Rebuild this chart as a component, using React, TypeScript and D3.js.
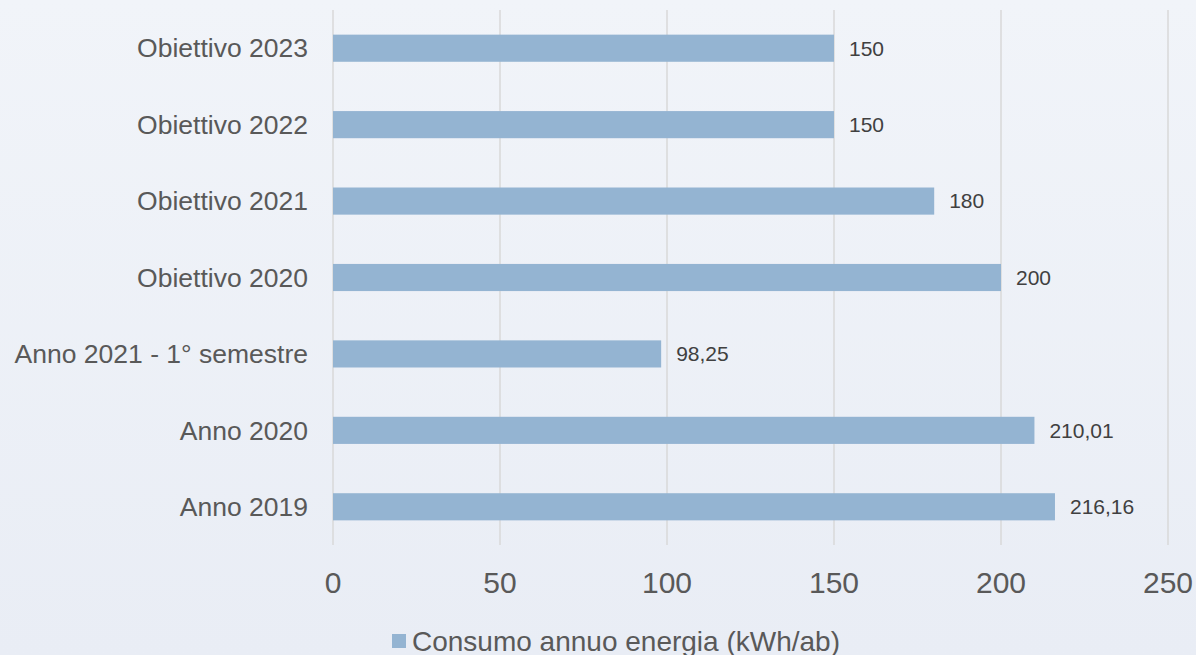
import React from "react";
import * as d3 from "d3";

const categories = [
  "Obiettivo 2023",
  "Obiettivo 2022",
  "Obiettivo 2021",
  "Obiettivo 2020",
  "Anno 2021 - 1° semestre",
  "Anno 2020",
  "Anno 2019",
];
const values = [150, 150, 180, 200, 98.25, 210.01, 216.16];
const valueLabels = ["150", "150", "180", "200", "98,25", "210,01", "216,16"];
const xTicks = [0, 50, 100, 150, 200, 250];
const seriesName = "Consumo annuo energia (kWh/ab)";

const W = 1196;
const H = 655;

export default function App() {
  const x = d3.scaleLinear().domain([0, 250]).range([333, 1168]);
  const y = d3.scaleBand().domain(categories).range([10, 545]).paddingInner(0.645).paddingOuter(0.3225);
  const font = "'Liberation Sans', Arial, sans-serif";
  return (
    <svg
      width={W}
      height={H}
      style={{ position: "absolute", left: 0, top: 0, display: "block" }}
      fontFamily={font}
    >
      <defs>
        <linearGradient id="bg" x1="0" y1="0" x2="0" y2="1">
          <stop offset="0" stopColor="#f1f4f9" />
          <stop offset="1" stopColor="#e9edf5" />
        </linearGradient>
      </defs>
      <rect x={0} y={0} width={W} height={H} fill="url(#bg)" />
      {xTicks.map((t) => (
        <line key={t} x1={x(t)} x2={x(t)} y1={10} y2={545} stroke="#d9d9d9" strokeWidth={1.5} />
      ))}
      {categories.map((c, i) => (
        <g key={c}>
          <rect
            x={x(0)}
            y={y(c)!}
            width={x(values[i]) - x(0)}
            height={y.bandwidth()}
            fill="#94b4d2"
          />
          <text
            x={308}
            y={y(c)! + y.bandwidth() / 2}
            dy="0.35em"
            textAnchor="end"
            fontSize={26.5}
            fill="#595959"
          >
            {c}
          </text>
          <text
            x={x(values[i]) + 15}
            y={y(c)! + y.bandwidth() / 2}
            dy="0.35em"
            fontSize={21}
            fill="#404040"
          >
            {valueLabels[i]}
          </text>
        </g>
      ))}
      {xTicks.map((t) => (
        <text key={t} x={x(t)} y={582} dy="0.35em" textAnchor="middle" fontSize={30} fill="#595959">
          {t}
        </text>
      ))}
      <rect x={392} y={634} width={14} height={14} fill="#94b4d2" />
      <text x={412} y={641} dy="0.35em" fontSize={28} fill="#595959">
        {seriesName}
      </text>
    </svg>
  );
}
